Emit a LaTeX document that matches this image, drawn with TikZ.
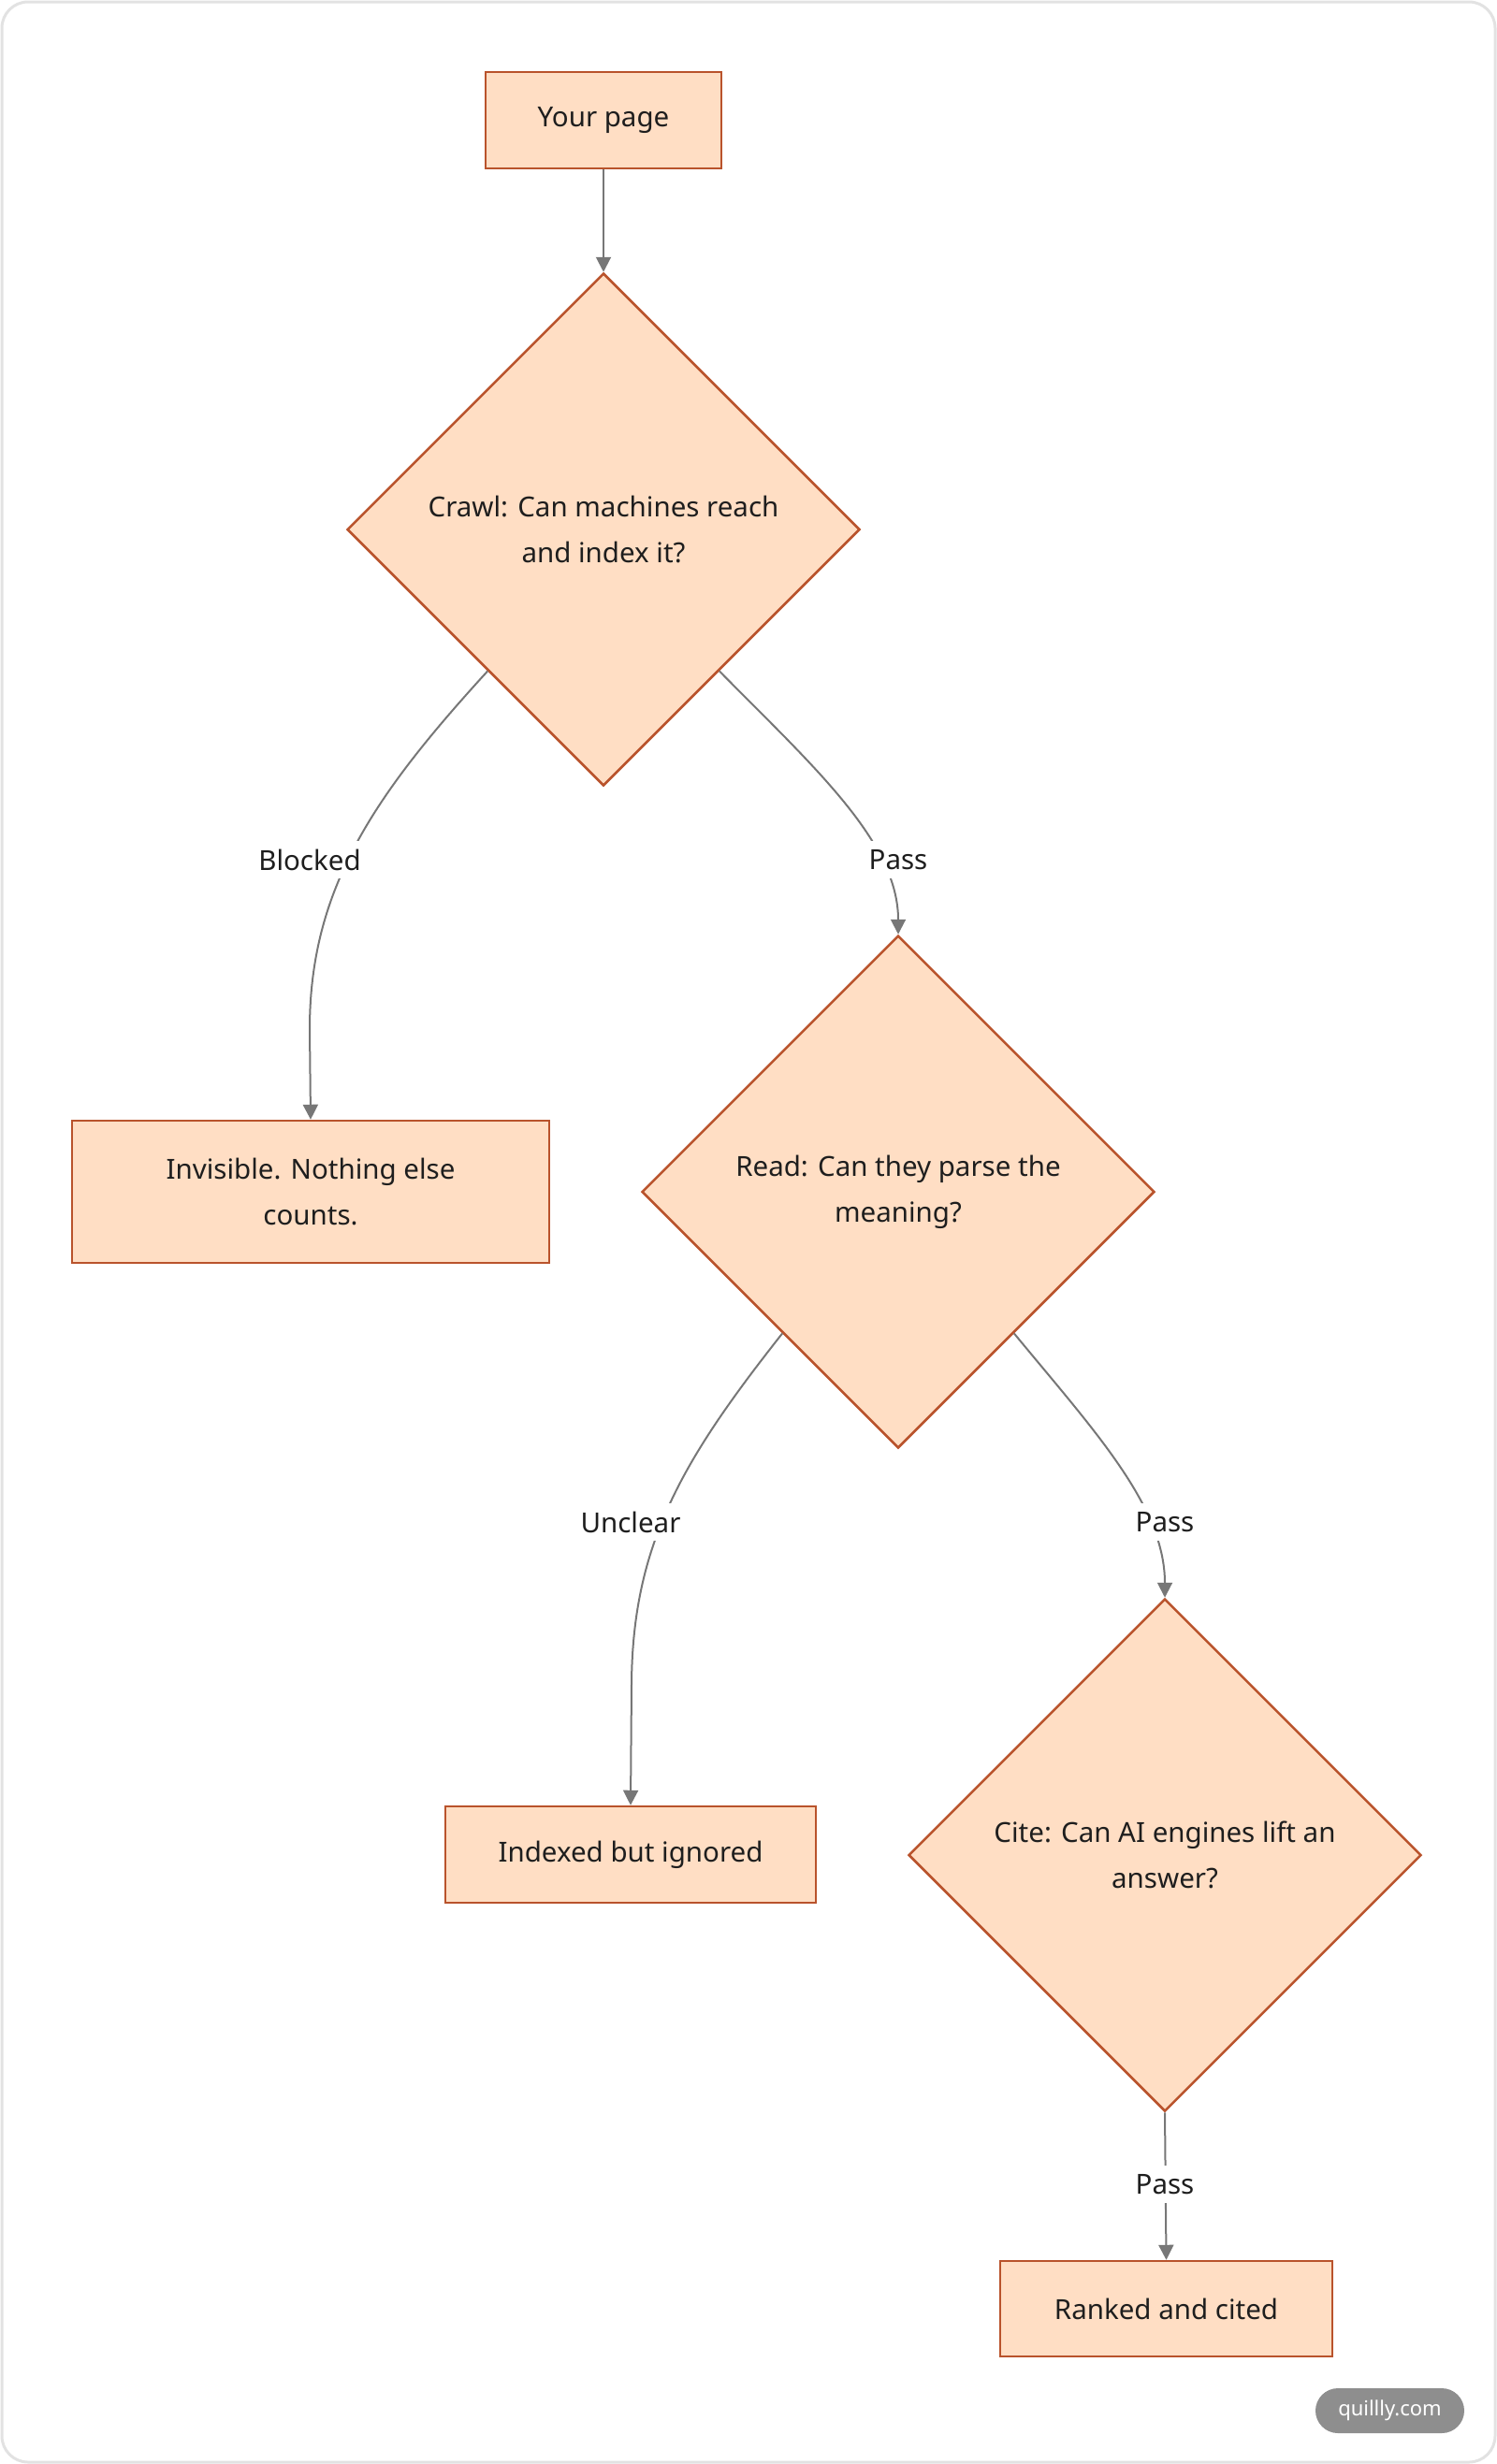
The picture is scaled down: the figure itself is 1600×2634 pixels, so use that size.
\documentclass[tikz,border=0pt]{standalone}
\usepackage{fontspec}
\setmainfont{Noto Sans}
\usetikzlibrary{shapes.geometric,arrows.meta,calc}
\definecolor{fillc}{HTML}{FFDEC4}
\definecolor{strokec}{HTML}{B9532C}
\definecolor{edgec}{HTML}{777777}
\definecolor{textc}{HTML}{1E1E1E}
\definecolor{framec}{HTML}{E2E2E2}
\definecolor{badgec}{HTML}{8E8E8E}
\newcommand{\mainfs}{\fontsize{29.5pt}{49pt}\selectfont}
\tikzset{
  boxnode/.style={draw=strokec, fill=fillc, line width=2.5pt, inner sep=0pt, text=textc, font=\mainfs, align=center},
  decnode/.style={diamond, aspect=1, draw=strokec, fill=fillc, line width=2.5pt, inner sep=0pt, minimum width=548pt, minimum height=548pt, text=textc, font=\mainfs, align=center},
  lblnode/.style={fill=white, inner xsep=4pt, inner ysep=9pt, text=textc, font=\mainfs},
  edgeline/.style={draw=edgec, line width=2pt, -{Triangle[length=16pt,width=16pt]}}
}
\begin{document}
\begin{tikzpicture}[x=1pt,y=-1pt]
\useasboundingbox (0,0) rectangle (1600,2634);
\draw[framec, line width=3pt, rounded corners=28pt] (2,2) rectangle (1598,2632);

\node[boxnode, minimum width=252pt, minimum height=103pt] (page) at (645,128.5) {\raisebox{-4pt}{Your page}};
\node[decnode] (d1) at (645,566) {Crawl: Can machines reach\\and index it?};
\node[boxnode, minimum width=510pt, minimum height=152pt] (inv) at (332,1274) {Invisible. Nothing else\\counts.};
\node[decnode] (d2) at (960,1274) {Read: Can they parse the\\meaning?};
\node[boxnode, minimum width=396pt, minimum height=103pt] (idx) at (674,1982.5) {Indexed but ignored};
\node[decnode] (d3) at (1245,1983) {Cite: Can AI engines lift an\\answer?};
\node[boxnode, minimum width=355pt, minimum height=102pt] (rank) at (1246.5,2468) {Ranked and cited};

\draw[edgeline] (page) -- (d1.north);
\draw[edgeline] ($(d1.west)!0.55!(d1.south)$) .. controls (400,850) and (331,950) .. (331,1100) -- (inv.north);
\draw[edgeline] ($(d1.east)!0.55!(d1.south)$) .. controls (870,820) and (960,900) .. (d2.north);
\draw[edgeline] ($(d2.west)!0.55!(d2.south)$) .. controls (730,1560) and (676,1650) .. (675,1800) -- (idx.north);
\draw[edgeline] ($(d2.east)!0.55!(d2.south)$) .. controls (1170,1530) and (1245,1610) .. (d3.north);
\draw[edgeline] (d3.south) -- (rank.north);

\node[lblnode] (l1) at (331,919) {Blocked};
\node[lblnode] (l2) at (960,919) {Pass};
\node[lblnode] (l3) at (674,1627) {Unclear};
\node[lblnode] (l4) at (1245,1627) {Pass};
\node[lblnode] (l5) at (1245,2335) {Pass};

\node[fill=badgec, rounded corners=24pt, minimum width=159pt, minimum height=48pt, inner sep=0pt, text=white, font=\fontsize{22pt}{26pt}\selectfont] (badge) at (1485.5,2577) {quillly.com};
\end{tikzpicture}
\end{document}
